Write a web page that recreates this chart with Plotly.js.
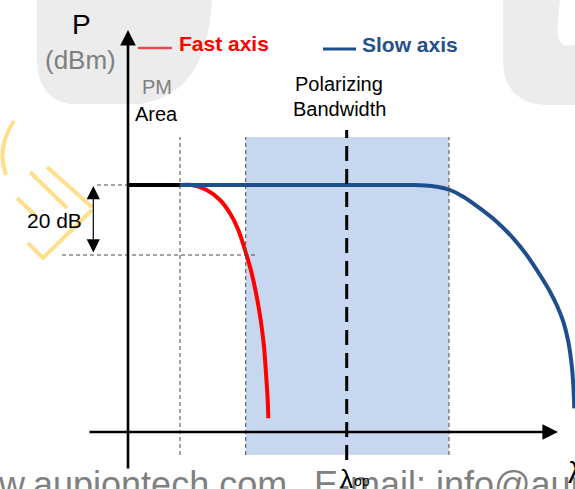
<!DOCTYPE html>
<html>
<head>
<meta charset="utf-8">
<script src="https://cdn.plot.ly/plotly-3.0.1.min.js"></script>
<style>html,body{margin:0;padding:0;background:#fff;}#chart{width:575px;height:489px;}</style>
</head>
<body>
<div id="chart"></div>
<script>
// Schematic coordinates: x = wavelength (origin at axis crossing), y = power (dBm, relative)
const fastX = [52, 63.7, 78.7, 92, 102, 110.3, 117, 123.7, 128.7, 132.7, 136, 138, 139.7, 140.3];
const fastY = [247, 247, 242, 232, 218.7, 202, 182, 158.7, 135.3, 112, 85.3, 58.7, 32, 13.7];
const slowX = [52, 150, 250, 270, 285, 297, 309, 322, 335.3, 352, 368.7, 385.3, 398.7, 412, 422, 428.7, 435.3, 440.3, 443.7, 445.3, 446.3];
const slowY = [247, 247, 247, 247, 247, 246.6, 245.3, 242, 235.3, 223.6, 210.3, 193.6, 177, 157, 140.3, 127, 110.3, 90.3, 67, 47, 23.6];
const pmX = [0, 52];
const pmY = [247, 247];
const pmEdge = 52;          // PM area boundary
const bandStart = 117.7;    // polarizing bandwidth start
const bandEnd = 321;        // polarizing bandwidth end
const lambdaOp = 218.7;     // operating wavelength
const levelTop = 247;       // 0 dB reference level
const levelLow = 177;       // -20 dB level
const labels = {
  P: "P", unit: "(dBm)", fast: "Fast axis", slow: "Slow axis",
  pm: "PM", area: "Area", pol1: "Polarizing", pol2: "Bandwidth",
  db: "20 dB", lam: "λ", lamop: "λ", lamsub: "op",
  wm1: "www.aupiontech.com", wm2: "E-mail: info@aupiontech.com"
};

const font = "Liberation Sans, Arial, sans-serif";
const dashThin = {color: "#4a4a4a", width: 1, dash: "4px,3px"};
const logo = {color: "#ffdf8c", width: 4};

const traces = [
  {x: fastX, y: fastY, mode: "lines", line: {color: "#ff0000", width: 4, shape: "spline", smoothing: 1}, hoverinfo: "skip"},
  {x: slowX, y: slowY, mode: "lines", line: {color: "#1f4e8c", width: 4, shape: "spline", smoothing: 0.8}, hoverinfo: "skip"},
  {x: pmX, y: pmY, mode: "lines", line: {color: "#000000", width: 4}, hoverinfo: "skip"}
];

const shapes = [
  // watermark shapes
  {type: "path", layer: "below", xref: "x", yref: "y", fillcolor: "#ececec", line: {width: 0},
   path: "M -91,432 L 84,432 C 80,372 62,337 12,328 L -58,328 C -83,332 -91,352 -91,372 Z"},
  {type: "path", layer: "below", xref: "x", yref: "y", fillcolor: "#ececec", line: {width: 0},
   path: "M 375,432 L 432,432 C 430,412 428,397 432,390 C 437,384 442,387 447,387 L 447,327 L 417,327 C 387,329 375,347 375,372 Z"},
  // yellow logo
  {type: "path", layer: "below", xref: "x", yref: "y", line: logo, path: "M -114,311 Q -132,284 -122,257"},
  {type: "line", layer: "below", xref: "x", yref: "y", x0: -81, y0: 265, x1: -36, y1: 225, line: logo},
  {type: "line", layer: "below", xref: "x", yref: "y", x0: -98, y0: 260, x1: -61, y1: 224, line: logo},
  {type: "line", layer: "below", xref: "x", yref: "y", x0: -111, y0: 234, x1: -91, y1: 215, line: logo},
  {type: "path", layer: "below", xref: "x", yref: "y", line: logo, path: "M -100,189 L -85,174 L -36,222"},
  // bandwidth shading
  {type: "rect", layer: "below", xref: "x", yref: "y", x0: bandStart, x1: bandEnd, y0: -23, y1: 295, fillcolor: "#c6d7ef", line: {width: 0}},
  {type: "line", xref: "x", yref: "y", x0: bandStart, x1: bandStart, y0: -23, y1: 295, line: dashThin},
  {type: "line", xref: "x", yref: "y", x0: bandEnd, x1: bandEnd, y0: -23, y1: 295, line: dashThin},
  {type: "line", xref: "x", yref: "y", x0: pmEdge, x1: pmEdge, y0: -23, y1: 295, line: dashThin},
  // operating wavelength
  {type: "line", xref: "x", yref: "y", x0: lambdaOp, x1: lambdaOp, y0: -28, y1: 302, line: {color: "#000", width: 3, dash: "15px,8px"}},
  // level guides
  {type: "line", xref: "x", yref: "y", x0: -31, x1: 0, y0: levelTop, y1: levelTop, line: dashThin},
  {type: "line", xref: "x", yref: "y", x0: -66, x1: 128, y0: levelLow, y1: levelLow, line: dashThin},
  // legend swatches
  {type: "line", xref: "x", yref: "y", x0: 10, x1: 44, y0: 384, y1: 384, line: {color: "#e8484f", width: 2.5}},
  {type: "line", xref: "x", yref: "y", x0: 195, x1: 228, y0: 383, y1: 383, line: {color: "#1f4e8c", width: 3}}
];

function txt(x, y, text, size, color, opts) {
  return Object.assign({xref: "x", yref: "y", x: x, y: y, text: text, showarrow: false,
    xanchor: "center", yanchor: "middle", font: {family: font, size: size, color: color}}, opts || {});
}

const annotations = [
  // axes arrows
  {xref: "x", yref: "y", axref: "x", ayref: "y", x: 0, y: 402, ax: 0, ay: -38, showarrow: true,
   arrowhead: 2, arrowsize: 1.2, arrowwidth: 2.6, arrowcolor: "#000", text: ""},
  {xref: "x", yref: "y", axref: "x", ayref: "y", x: 430, y: 0, ax: -40, ay: 0, showarrow: true,
   arrowhead: 2, arrowsize: 1.2, arrowwidth: 2.6, arrowcolor: "#000", text: ""},
  // 20 dB double arrow
  {xref: "x", yref: "y", axref: "x", ayref: "y", x: -34.7, y: levelTop - 1, ax: -34.7, ay: levelLow + 1, showarrow: true,
   arrowhead: 2, arrowsize: 2.2, startarrowhead: 2, startarrowsize: 2.2, arrowside: "end+start",
   arrowwidth: 1.2, arrowcolor: "#000", text: ""},
  txt(-47, 408, labels.P, 28, "#000"),
  txt(-48, 372, labels.unit, 26, "#7f7f7f"),
  txt(49, 389, "<b>" + labels.fast + "</b>", 21, "#ff0000", {xanchor: "left"}),
  txt(232, 388, "<b>" + labels.slow + "</b>", 21, "#24508c", {xanchor: "left"}),
  txt(12, 345, labels.pm, 20, "#808080", {xanchor: "left"}),
  txt(5, 318, labels.area, 20, "#000", {xanchor: "left"}),
  txt(211, 348, labels.pol1, 20, "#000"),
  txt(211, 323, labels.pol2, 20, "#000"),
  txt(-73.5, 212, labels.db, 21, "#000"),
  // watermark text (under the lambda labels)
  {xref: "paper", yref: "paper", x: 289/575, y: (489-484.5)/489, xanchor: "right", yanchor: "middle", showarrow: false,
   text: labels.wm1, font: {family: font, size: 36, color: "#808080"}},
  {xref: "paper", yref: "paper", x: 312/575, y: (489-484.5)/489, xanchor: "left", yanchor: "middle", showarrow: false,
   text: labels.wm2, font: {family: font, size: 36, color: "#808080"}},
  txt(438, -40, labels.lam, 30, "#000", {xanchor: "left"}),
  txt(210, -47, labels.lamop, 26, "#000", {xanchor: "left"}),
  txt(224, -49, labels.lamsub, 14, "#000", {xanchor: "left"})
];

const layout = {
  width: 575, height: 489,
  margin: {l: 0, r: 0, t: 0, b: 0, pad: 0},
  paper_bgcolor: "#fff", plot_bgcolor: "rgba(0,0,0,0)",
  showlegend: false,
  xaxis: {range: [-128, 447], visible: false, fixedrange: true},
  yaxis: {range: [-57, 432], visible: false, fixedrange: true},
  shapes: shapes,
  annotations: annotations
};

Plotly.newPlot("chart", traces, layout, {displayModeBar: false, staticPlot: true});
</script>
</body>
</html>
